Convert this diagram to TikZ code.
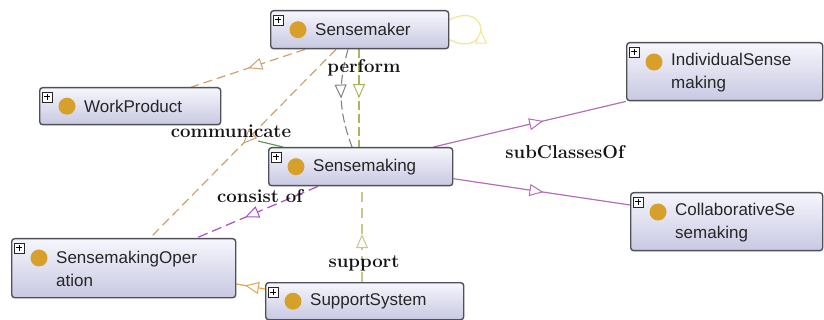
\documentclass[tikz,border=0pt]{standalone}
\usepackage{fontspec}
\newfontfamily\nodefont{Liberation Sans}
\usetikzlibrary{arrows.meta,decorations.markings,calc,backgrounds}
\definecolor{boxborder}{RGB}{80,80,88}
\definecolor{boxtop}{RGB}{246,246,253}
\definecolor{boxbottom}{RGB}{200,200,226}
\definecolor{dotcol}{RGB}{214,160,42}
\definecolor{edgetan}{RGB}{205,160,110}
\definecolor{edgegray}{RGB}{130,130,130}
\definecolor{edgeolive}{RGB}{170,182,95}
\definecolor{edgepaleolive}{RGB}{200,200,140}
\definecolor{edgepaleyellow}{RGB}{240,232,150}
\definecolor{edgepurple}{RGB}{165,80,200}
\definecolor{edgemauve}{RGB}{180,110,185}
\definecolor{edgeorange}{RGB}{230,165,70}
\definecolor{edgegreen}{RGB}{90,160,90}
\tikzset{
  clsbox/.style={draw=boxborder, line width=1.4pt, rounded corners=3pt,
    top color=boxtop, bottom color=boxbottom, inner sep=0pt},
  plusbox/.style={draw=black!85, line width=0.6pt, fill=white, minimum size=10pt,
    inner sep=0pt, path picture={
      \draw[black, line width=1pt] ([xshift=-3pt]path picture bounding box.center) -- ([xshift=3pt]path picture bounding box.center);
      \draw[black, line width=1pt] ([yshift=-3pt]path picture bounding box.center) -- ([yshift=3pt]path picture bounding box.center);}},
  dotnode/.style={circle, fill=dotcol, minimum size=17pt, inner sep=0pt},
  clstext/.style={font=\nodefont\fontsize{17}{23}\selectfont, text=black!85,
    inner sep=0pt, align=left},
  lbl/.style={font=\fontsize{18.6}{20}\selectfont\bfseries, text=black!92, inner sep=0pt},
  midarrow/.style={postaction={decorate}, decoration={markings,
    mark=at position #1 with {\arrow{Triangle[fill=white, length=14pt, width=12pt, line width=1pt]}}}},
  midarrow/.default=0.5,
  tanline/.style={draw=edgetan, line width=1.2pt, dash pattern=on 9pt off 5pt},
  grayline/.style={draw=edgegray, line width=1.1pt, dash pattern=on 9pt off 4pt},
  oliveline/.style={draw=edgeolive, line width=1.2pt, dash pattern=on 9pt off 4pt},
  loopline/.style={draw=edgepaleyellow, line width=1.3pt},
  greenline/.style={draw=edgegreen, line width=1.2pt},
  purpledash/.style={draw=edgepurple, line width=1.2pt, dash pattern=on 10pt off 5pt},
  mauveline/.style={draw=edgemauve, line width=1.2pt},
  paleoliveline/.style={draw=edgepaleolive, line width=1.2pt, dash pattern=on 10pt off 6pt},
  orangeline/.style={draw=edgeorange, line width=1.2pt},
}
\newcommand\owlone[6]{%
  \node[clsbox, minimum width=#4pt, minimum height=#5pt, anchor=north west] (#1) at (#2,#3) {};
  \node[plusbox] (#1p) at ([xshift=8pt,yshift=-10pt]#1.north west) {};
  \node[dotnode] (#1d) at ([xshift=28pt]#1.west) {};
  \node[clstext, anchor=west] (#1t) at ([xshift=45pt]#1.west) {#6};
}
\newcommand\owltwo[6]{%
  \node[clsbox, minimum width=#4pt, minimum height=#5pt, anchor=north west] (#1) at (#2,#3) {};
  \node[plusbox] (#1p) at ([xshift=8pt,yshift=-10pt]#1.north west) {};
  \node[dotnode] (#1d) at ([xshift=28pt,yshift=-20pt]#1.north west) {};
  \node[clstext, anchor=west] (#1t) at ([xshift=45pt,yshift=-31pt]#1.north west) {#6};
}
\begin{document}
\begin{tikzpicture}[x=1pt,y=-1pt]
\useasboundingbox (0,0) rectangle (824,320);
\owlone{smaker}{270}{10}{178}{38}{Sensemaker}
\owlone{wprod}{39}{87}{181}{37}{WorkProduct}
\owlone{smaking}{268}{147}{184}{38}{Sensemaking}
\owltwo{smop}{11}{238}{224}{59}{SensemakingOper\\ation}
\owlone{ssys}{265}{282}{198}{37}{SupportSystem}
\owltwo{indiv}{626}{42}{196}{58}{IndividualSense\\making}
\owltwo{collab}{630}{192}{192}{58}{CollaborativeSe\\semaking}
\coordinate (commend) at (258,141);
\begin{pgfonlayer}{background}
\draw[tanline, midarrow] ([xshift=35pt]smaker.south west) -- ([xshift=-30pt]wprod.north east);
\draw[tanline, midarrow] ([xshift=66pt]smaker.south west) -- ([xshift=139pt]smop.north west);
\draw[grayline, midarrow] ([xshift=78pt]smaker.south west) to[bend right=18] ([xshift=84pt]smaking.north west);
\draw[oliveline, midarrow] ([xshift=89pt]smaker.south west) -- ([xshift=91pt]smaking.north west);
\draw[loopline, midarrow] ([yshift=-10pt]smaker.east) .. controls +(42,20) and +(42,-20) .. ([yshift=10pt]smaker.east);
\draw[greenline] (commend) -- ([xshift=15pt]smaking.north west);
\draw[purpledash, midarrow=0.6] ([xshift=50pt]smaking.south west) -- ([xshift=-40pt]smop.north east);
\draw[mauveline, midarrow=0.57] ([xshift=-20pt]smaking.north east) -- (indiv.south west);
\draw[mauveline, midarrow=0.51] ([yshift=-12pt]smaking.east) -- ([yshift=-13pt]collab.north west);
\draw[paleoliveline, midarrow] ([xshift=97pt]ssys.north west) -- ([xshift=94pt]smaking.south west);
\draw[orangeline, midarrow=0.7] ([yshift=-7pt]ssys.north west) -- ([yshift=-46pt]smop.north east);
\end{pgfonlayer}
\node[lbl] (lperform) at (364,68) {perform};
\node[lbl] (lcomm) at (231,131) {communicate};
\node[lbl] (lcons) at (260,196) {consist of};
\node[lbl] (lsupp) at (364,263) {support};
\node[lbl] (lsub) at (565,152) {subClassesOf};
\end{tikzpicture}
\end{document}
